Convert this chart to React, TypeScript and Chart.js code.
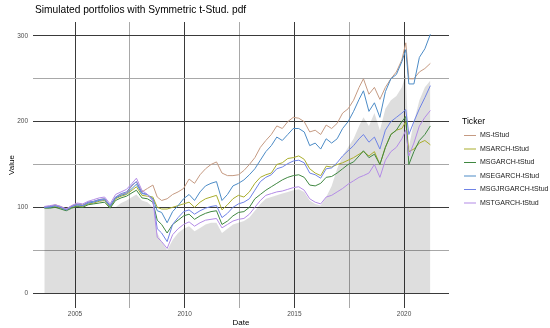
import React, { useEffect, useRef } from "react";
import { Chart, registerables } from "chart.js";

Chart.register(...registerables);

const FONT = "'Liberation Sans', Arial, Helvetica, sans-serif";

const dates = [
  2003.6, 2003.85, 2004.1, 2004.35, 2004.6, 2004.85, 2005.1, 2005.35, 2005.6, 2005.85,
  2006.1, 2006.35, 2006.6, 2006.85, 2007.1, 2007.35, 2007.6, 2007.8, 2008.05, 2008.3,
  2008.55, 2008.75, 2008.95, 2009.2, 2009.45, 2009.7, 2009.95, 2010.2, 2010.45, 2010.7,
  2010.95, 2011.2, 2011.45, 2011.7, 2011.95, 2012.2, 2012.45, 2012.7, 2012.95, 2013.2,
  2013.45, 2013.7, 2013.95, 2014.2, 2014.45, 2014.7, 2014.95, 2015.2, 2015.45, 2015.7,
  2015.95, 2016.2, 2016.45, 2016.7, 2016.95, 2017.2, 2017.45, 2017.7, 2017.95, 2018.15,
  2018.4, 2018.65, 2018.9, 2019.15, 2019.4, 2019.65, 2019.9, 2020.08, 2020.22, 2020.45,
  2020.7, 2020.95, 2021.2,
];

const msT = [
  100, 101, 103, 101, 98, 102, 104, 103, 106, 107, 109, 110, 102, 112, 115, 117, 125, 130, 118, 122,
  126, 112, 108, 110, 115, 118, 122, 133, 128, 138, 145, 150, 153, 140, 137, 137, 138, 143, 150, 158,
  170, 178, 185, 195, 192, 200, 205, 204, 200, 188, 190, 185, 196, 192, 198, 210, 215, 225, 240, 250,
  232, 240, 226, 240, 250, 258, 272, 292, 250, 250, 258, 262, 268,
];

const msArch = [
  100, 100, 101, 99, 97, 100, 102, 101, 104, 105, 107, 108, 100, 110, 113, 115, 120, 124, 114, 113,
  112, 100, 98, 98, 100, 102, 104, 106, 100, 106, 110, 112, 114, 97, 103, 110, 114, 112, 118, 128,
  135, 138, 140, 150, 152, 157, 158, 160, 156, 145, 140, 137, 148, 147, 150, 152, 155, 158, 162, 165,
  160, 165, 150, 170, 185, 190, 192, 200, 165, 168, 175, 178, 173,
];

const msGarch = [
  99, 99, 100, 98, 96, 99, 101, 100, 103, 104, 105, 106, 99, 108, 111, 113, 117, 120, 111, 110,
  106, 85, 80, 70, 80, 85, 90, 92, 86, 90, 93, 95, 96, 80, 84, 90, 94, 95, 100, 110,
  115, 120, 124, 128, 132, 135, 137, 138, 135, 126, 125, 128, 135, 136, 140, 145, 150, 153, 160, 166,
  158, 162, 150, 170, 185, 190, 200, 206, 150, 165, 178, 185, 195,
];

const msEgarch = [
  100, 100, 102, 100, 97, 101, 103, 102, 105, 106, 108, 109, 101, 111, 114, 116, 122, 127, 116, 115,
  110, 96, 94, 82, 95, 102, 110, 115, 108, 118, 125, 128, 130, 108, 115, 125, 128, 132, 138, 145,
  155, 165, 172, 182, 178, 185, 192, 192, 188, 172, 175, 168, 180, 175, 180, 192, 200, 212, 226, 236,
  212, 222, 205, 235, 250, 255, 270, 284, 244, 244, 275, 285, 302,
];

const msGjrGarch = [
  100, 101, 102, 100, 97, 101, 103, 102, 106, 107, 109, 110, 102, 112, 116, 118, 126, 130, 117, 115,
  108, 75, 70, 60, 80, 88, 95, 97, 92, 96, 99, 101, 102, 88, 93, 100, 104, 106, 110, 120,
  130, 135, 138, 145, 147, 151, 154, 155, 152, 140, 138, 134, 145, 146, 152, 160, 166, 172, 180, 185,
  176, 182, 168, 190, 200, 205, 210, 214, 185, 200, 215, 228, 242,
];

const msTGarch = [
  101, 102, 103, 101, 98, 102, 105, 104, 107, 109, 111, 112, 104, 115, 118, 121, 128, 134, 120, 115,
  108, 65, 60, 52, 68, 75, 80, 83, 78, 82, 85, 86, 87, 76, 80, 84, 86, 87, 92, 100,
  108, 114, 116, 118, 119, 121, 123, 124, 120, 110, 106, 104, 112, 114, 118, 122, 127, 131, 135, 137,
  140, 150, 135, 155, 165, 170, 180, 190, 160, 175, 195, 205, 213,
];

const benchmark = [
  100, 100, 100, 100, 99, 100, 100, 100, 100, 100, 100, 100, 100, 100, 105, 108, 112, 115, 108, 106,
  100, 70, 60, 50, 62, 70, 75, 78, 72, 76, 80, 82, 82, 70, 75, 80, 82, 84, 88, 96,
  104, 110, 112, 114, 116, 118, 120, 121, 118, 108, 104, 102, 112, 125, 145, 160, 170, 180, 195, 205,
  195, 210, 190, 215, 225, 230, 240, 255, 170, 200, 225, 240, 248,
];

const seriesNames = [
  "MS-tStud",
  "MSARCH-tStud",
  "MSGARCH-tStud",
  "MSEGARCH-tStud",
  "MSGJRGARCH-tStud",
  "MSTGARCH-tStud",
];
const seriesColors = ["#C59A82", "#A9AD2C", "#3F8740", "#4C8BC6", "#6E82E6", "#B38BE6"];

const xTicks = [2005, 2007.5, 2010, 2012.5, 2015, 2017.5, 2020];
const yTicks = [0, 50, 100, 150, 200, 250, 300];

const chartTitle = "Simulated portfolios with Symmetric t-Stud. pdf";
const legendTitle = "Ticker";

const MAJOR = "#3a3a3a";
const MINOR = "#a8a8a8";

export default function App() {
  const ref = useRef<HTMLCanvasElement>(null);

  useEffect(() => {
    document.body.style.margin = "0";
    const canvas = ref.current;
    if (!canvas) return;
    const seriesValues = [msT, msArch, msGarch, msEgarch, msGjrGarch, msTGarch];

    const datasets: any[] = seriesValues.map((vals, i) => ({
      label: seriesNames[i],
      data: dates.map((d, j) => ({ x: d, y: vals[j] })),
      borderColor: seriesColors[i],
      backgroundColor: seriesColors[i],
      borderWidth: 1,
      pointRadius: 0,
      fill: false,
      tension: 0,
      order: 5 - i,
    }));
    datasets.push({
      label: "benchmark",
      data: dates.map((d, j) => ({ x: d, y: benchmark[j] })),
      borderWidth: 0,
      borderColor: "rgba(0,0,0,0)",
      backgroundColor: "rgba(0,0,0,0.13)",
      pointRadius: 0,
      fill: "origin",
      tension: 0,
      order: 20,
    });

    const overlay = {
      id: "overlay",
      afterDraw(chart: any) {
        const c = chart.ctx;
        c.save();
        c.fillStyle = "#000";
        c.textAlign = "left";
        c.textBaseline = "alphabetic";
        c.font = `10.2px ${FONT}`;
        c.fillText(chartTitle, 35, 12.5);

        c.font = `8.6px ${FONT}`;
        c.fillText(legendTitle, 462, 124);

        c.font = `7px ${FONT}`;
        c.textBaseline = "middle";
        seriesNames.forEach((name, i) => {
          const y = 135 + i * 13.5;
          c.strokeStyle = seriesColors[i];
          c.lineWidth = 1;
          c.beginPath();
          c.moveTo(464, y + 0.5);
          c.lineTo(476, y + 0.5);
          c.stroke();
          c.fillStyle = "#222";
          c.fillText(name, 480, y + 0.5);
        });
        c.restore();
      },
    };

    const chart = new Chart(canvas, {
      type: "line",
      data: { datasets },
      options: {
        animation: false,
        responsive: false,
        devicePixelRatio: 1,
        layout: { padding: { left: 0, right: 101, top: 22, bottom: 0 } },
        plugins: {
          legend: { display: false },
          tooltip: { enabled: false },
          title: { display: false },
        },
        scales: {
          x: {
            type: "linear",
            min: 2003.085,
            max: 2022.05,
            afterBuildTicks: (s: any) => {
              s.ticks = xTicks.map((v) => ({ value: v }));
            },
            afterFit: (s: any) => {
              s.height = 20;
            },
            border: { display: false },
            grid: {
              drawTicks: false,
              lineWidth: 1,
              color: (ctx: any) =>
                ctx.tick && Math.abs(ctx.tick.value % 5) < 1e-6 ? MAJOR : MINOR,
            },
            ticks: {
              padding: 2,
              autoSkip: false,
              maxRotation: 0,
              color: "#4d4d4d",
              font: { family: FONT, size: 6.5 },
              callback: (v: any) => (Math.abs(Number(v) % 5) < 1e-6 ? String(v) : ""),
            },
            title: {
              display: true,
              text: "Date",
              color: "#000",
              font: { family: FONT, size: 8 },
              padding: 0,
            },
          },
          y: {
            type: "linear",
            min: -17.5,
            max: 316.3,
            afterBuildTicks: (s: any) => {
              s.ticks = yTicks.map((v) => ({ value: v }));
            },
            afterFit: (s: any) => {
              s.width = 33;
            },
            border: { display: false },
            grid: {
              drawTicks: false,
              lineWidth: 1,
              color: (ctx: any) =>
                ctx.tick && Math.abs(ctx.tick.value % 100) < 1e-6 ? MAJOR : MINOR,
            },
            ticks: {
              padding: 5,
              autoSkip: false,
              color: "#4d4d4d",
              font: { family: FONT, size: 6.5 },
              callback: (v: any) => (Math.abs(Number(v) % 100) < 1e-6 ? String(v) : ""),
            },
            title: {
              display: true,
              text: "Value",
              color: "#000",
              font: { family: FONT, size: 8 },
              padding: { top: 7, bottom: 0 },
            },
          },
        },
      },
      plugins: [overlay],
    });

    return () => chart.destroy();
  }, []);

  return (
    <div style={{ width: 550, height: 328, background: "#fff" }}>
      <canvas ref={ref} width={550} height={328} />
    </div>
  );
}
